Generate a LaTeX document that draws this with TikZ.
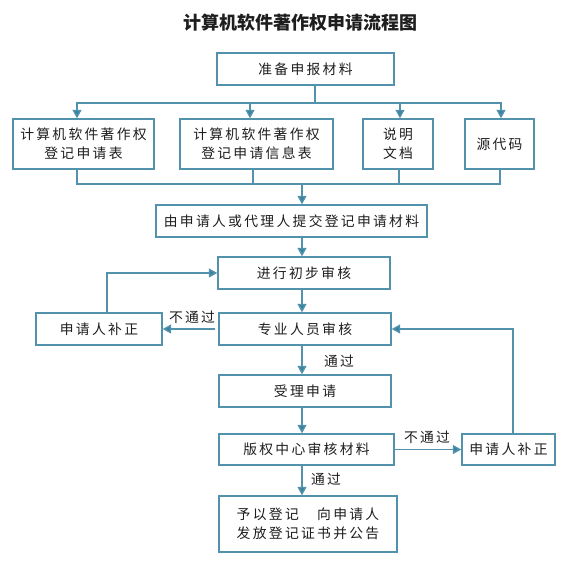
\documentclass[tikz,border=0pt]{standalone}
\usepackage{fontspec}
\newfontfamily\cjk{Noto Sans CJK SC}
\usetikzlibrary{arrows.meta}
\definecolor{lc}{RGB}{82,146,172}
\definecolor{ac}{RGB}{58,130,160}
\definecolor{tc}{RGB}{30,30,30}
\makeatletter
\newcommand\spc[1]{\def\spc@first{1}\@tfor\spc@c:=#1\do{\ifx\spc@first\empty\hspace{2.3pt}\fi\def\spc@first{}\spc@c}}
\makeatother
\begin{document}
\begin{tikzpicture}[x=1pt,y=-1pt,
  box/.style={draw=lc,line width=1.4pt,fill=white,minimum width=#1,minimum height=32pt,
    inner sep=0pt,align=center,font=\cjk\fontsize{13.8}{19}\selectfont,text=tc},
  box/.default=100pt,
  arr/.style={draw=lc,line width=1.4pt,-{Triangle[width=9pt,length=8.5pt,fill=ac]}},
  ln/.style={draw=lc,line width=1.4pt},
  lbl/.style={font=\cjk\fontsize{13.8}{17}\selectfont,text=tc,inner sep=0pt},
  ttl/.style={font=\cjk\bfseries\fontsize{18}{20}\selectfont,text=tc,inner sep=0pt}]
\useasboundingbox (0,0) rectangle (567,570);

\node[ttl] (title) at (300,23) {计算机软件著作权申请流程图};

\node[box=177pt] (prep) at (305.5,69) {\spc{准备申报材料}};
\node[box=141pt,minimum height=50pt] (A) at (83.5,144) {\spc{计算机软件著作权}\\\spc{登记申请表}};
\node[box=153pt,minimum height=50pt] (B) at (256.5,144) {\spc{计算机软件著作权}\\\spc{登记申请信息表}};
\node[box=70pt,minimum height=50pt] (C) at (398,144) {\spc{说明}\\\spc{文档}};
\node[box=69pt,minimum height=50pt] (D) at (499.5,144) {\spc{源代码}};
\node[box=271pt] (submit) at (291.5,221) {\spc{由申请人或代理人提交登记申请材料}};
\node[box=172pt] (prelim) at (304,273) {\spc{进行初步审核}};
\node[box=172pt] (prof) at (305,329) {\spc{专业人员审核}};
\node[box=126pt] (leftfix) at (99,329) {\spc{申请人补正}};
\node[box=172pt] (accept) at (305,391) {\spc{受理申请}};
\node[box=175pt,minimum height=31pt] (center) at (306.5,449.5) {\spc{版权中心审核材料}};
\node[box=93pt,minimum height=31pt] (rightfix) at (508.5,449.5) {\spc{申请人补正}};
\node[box=178pt,minimum height=56pt] (final) at (308,524) {\spc{予以登记　向申请人}\\\spc{发放登记证书并公告}};

% top distribution
\coordinate (j1) at (315,103);
\draw[ln] (prep.south -| j1) -- (j1);
\draw[arr] (j1) -| ([xshift=-6.5pt]A.north);
\draw[arr] (j1) -| ([xshift=-6.5pt]B.north);
\draw[arr] (j1) -| ([xshift=2pt]C.north);
\draw[arr] (j1) -| ([xshift=1.5pt]D.north);

% bottom merge
\coordinate (j2) at (302,184);
\draw[ln] ([xshift=-6.5pt]A.south) |- (j2);
\draw[ln] ([xshift=-3.5pt]B.south) |- (j2);
\draw[ln] ([xshift=1pt]C.south) |- (j2);
\draw[ln] ([xshift=0.5pt]D.south) |- (j2);
\draw[arr] (j2) -- (submit.north -| j2);

% main column
\coordinate (col) at (302,0);
\draw[arr] (submit.south -| col) -- (prelim.north -| col);
\draw[arr] (prelim.south -| col) -- (prof.north -| col);
\draw[arr] (prof.south -| col) -- (accept.north -| col);
\draw[arr] (accept.south -| col) -- (center.north -| col);
\draw[arr] (center.south -| col) -- (final.north -| col);

% loops
\draw[arr] ([xshift=8pt]leftfix.north) |- (prelim.west);
\draw[arr] ([xshift=-3pt]prof.west) -- (leftfix.east);
\draw[arr] ([xshift=4.5pt]rightfix.north) |- (prof.east);
\draw[arr] (center.east) -- (rightfix.west);

% labels
\node[lbl] (l1) at (192,317) {\spc{不通过}};
\node[lbl] (l2) at (339,361) {\spc{通过}};
\node[lbl] (l3) at (427,437) {\spc{不通过}};
\node[lbl] (l4) at (326,479) {\spc{通过}};
\end{tikzpicture}
\end{document}
